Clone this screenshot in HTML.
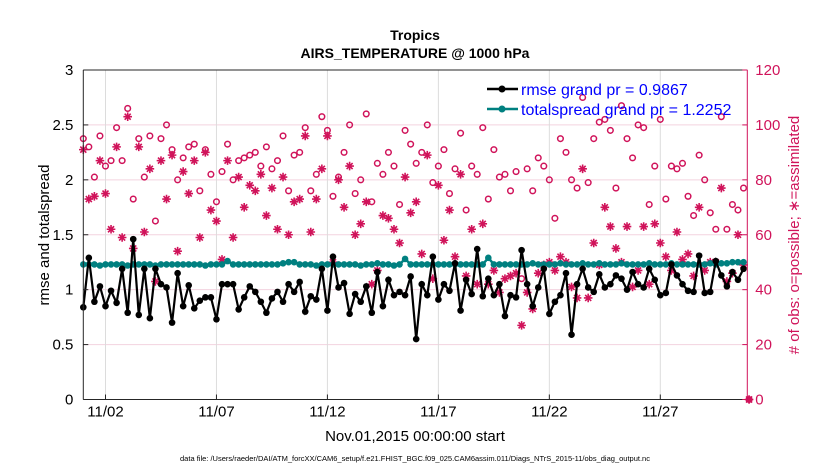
<!DOCTYPE html>
<html><head><meta charset="utf-8"><style>
body{margin:0;background:#fff;}
svg{display:block;font-family:"Liberation Sans",Arial,sans-serif;}
</style></head><body>
<svg id="chart" width="830" height="470" viewBox="0 0 830 470" xmlns="http://www.w3.org/2000/svg">
<text x="415" y="40" text-anchor="middle" font-size="14" font-weight="bold">Tropics</text>
<text x="415" y="58" text-anchor="middle" font-size="14" font-weight="bold">AIRS_TEMPERATURE @ 1000 hPa</text>
<g id="grid"></g>
<g id="marks"></g>
<g id="axes"></g>
<text x="0" y="0" transform="translate(49,235) rotate(-90)" text-anchor="middle" font-size="15">rmse and totalspread</text>
<text x="0" y="0" transform="translate(799,235) rotate(-90)" text-anchor="middle" font-size="15" fill="#d0135a"># of obs: o=possible; ∗=assimilated</text>
<text x="415" y="441" text-anchor="middle" font-size="15">Nov.01,2015 00:00:00 start</text>
<text x="415" y="461" text-anchor="middle" font-size="7.5">data file: /Users/raeder/DAI/ATM_forcXX/CAM6_setup/f.e21.FHIST_BGC.f09_025.CAM6assim.011/Diags_NTrS_2015-11/obs_diag_output.nc</text>
<g>
<line x1="487" y1="89" x2="518" y2="89" stroke="#000" stroke-width="2.5"/>
<circle cx="502" cy="89" r="3.5" fill="#000"/>
<text x="521" y="95" font-size="16" fill="#0000ff">rmse grand pr = 0.9867</text>
<line x1="487" y1="109" x2="518" y2="109" stroke="#008080" stroke-width="2.5"/>
<circle cx="502" cy="109" r="3.5" fill="#008080"/>
<text x="521" y="115" font-size="16" fill="#0000ff">totalspread grand pr = 1.2252</text>
</g>
</svg>
<script>
const rmse=[0.84,1.29,0.89,1.03,0.85,0.99,0.88,1.19,0.79,1.46,0.77,1.19,0.74,1.19,1.05,1.02,0.70,1.15,0.85,1.04,0.83,0.90,0.93,0.93,0.73,1.05,1.05,1.05,0.82,0.93,1.03,0.98,0.89,0.79,0.92,0.98,0.89,1.05,0.98,1.07,0.80,
0.94,0.91,1.19,0.81,1.30,1.02,1.06,0.78,0.96,0.89,1.03,0.79,1.16,0.85,1.09,0.95,0.98,0.95,1.12,0.55,1.05,0.95,1.30,0.91,1.05,0.99,1.24,0.81,1.09,0.96,1.37,0.94,1.10,0.95,1.05,0.76,0.95,0.93,1.36,
1.05,0.85,1.02,1.19,0.78,0.89,0.95,1.15,0.59,1.05,1.19,1.02,0.98,1.14,1.02,1.05,1.13,1.10,1.00,1.16,1.05,1.02,1.19,1.09,0.95,0.97,1.23,1.13,1.05,0.99,0.98,1.31,0.97,0.98,1.26,1.13,1.03,1.16,1.09,1.19];
const spread=[1.23,1.23,1.23,1.22,1.23,1.23,1.23,1.23,1.22,1.23,1.23,1.23,1.23,1.22,1.23,1.23,1.23,1.23,1.23,1.23,1.23,1.23,1.22,1.23,1.23,1.23,1.26,1.23,1.23,1.23,1.23,1.23,1.23,1.23,1.23,1.23,1.24,1.25,1.25,1.23,1.23,
1.23,1.22,1.23,1.23,1.23,1.23,1.23,1.23,1.23,1.22,1.23,1.23,1.24,1.23,1.23,1.22,1.23,1.28,1.23,1.23,1.23,1.23,1.23,1.23,1.23,1.23,1.23,1.23,1.23,1.23,1.23,1.23,1.29,1.23,1.23,1.23,1.23,1.23,1.23,
1.23,1.24,1.23,1.23,1.23,1.23,1.24,1.23,1.23,1.23,1.24,1.23,1.23,1.24,1.23,1.23,1.23,1.24,1.23,1.23,1.23,1.23,1.24,1.23,1.23,1.23,1.24,1.23,1.23,1.23,1.23,1.23,1.23,1.24,1.23,1.24,1.24,1.25,1.25,1.25];
const possible=[95,92,81,96,85,87,99,87,106,73,95,81,96,65,95,100,91,80,88,92,93,76,91,82,72,83,93,80,87,88,89,90,85,92,84,87,96,76,89,90,99,
76,82,103,98,74,81,90,100,75,80,104,72,86,82,90,85,71,98,93,86,90,100,79,85,91,75,84,97,69,85,82,99,73,91,81,82,76,83,44,
84,76,88,85,80,66,95,90,80,77,110,79,95,101,102,98,77,107,95,88,100,99,71,85,102,73,85,84,86,74,67,89,80,68,62,103,62,71,69,77,0];
const assimilated=[91,73,74,87,75,62,92,59,103,55,92,61,84,43,87,73,89,54,83,75,87,59,90,69,65,51,87,59,81,70,78,76,82,67,77,62,81,60,72,73,96,
61,73,84,96,50,80,70,85,60,64,72,42,47,67,66,62,57,81,68,72,53,89,44,78,58,69,52,82,45,62,42,64,42,47,39,44,45,46,27,
39,33,46,49,50,47,52,50,41,37,84,37,57,49,70,63,55,50,63,41,47,63,42,64,57,52,47,61,51,53,45,70,47,50,50,77,43,46,60,49,0];
const xTickLabels=["11/02","11/07","11/12","11/17","11/22","11/27"];
const xTickDays=[1,6,11,16,21,26];
const yTicks=[0,0.5,1,1.5,2,2.5,3];
const y2Ticks=[0,20,40,60,80,100,120];

const L=83.3,R=747.3,T=70,B=399.5;
const NS="http://www.w3.org/2000/svg";
const dayW=(R-L)/29.92;
function xDay(d){return L+d*dayW;}
function xIdx(i){return xDay(i*0.25);}
function yL(v){return B-(v/3)*(B-T);}
function yR(n){return B-(n/120)*(B-T);}
function mk(tag,attrs,parent){const e=document.createElementNS(NS,tag);for(const k in attrs)e.setAttribute(k,attrs[k]);parent.appendChild(e);return e;}
const grid=document.getElementById('grid'),marks=document.getElementById('marks'),axes=document.getElementById('axes');
const RED="#d0135a";

yTicks.forEach(v=>{if(v>0&&v<3){const g=mk('line',{x1:L,x2:R,y1:yL(v),y2:yL(v),stroke:"#f3d3df","stroke-width":1},grid);

}});
xTickDays.forEach(d=>{const g=mk('line',{x1:xDay(d),x2:xDay(d),y1:T,y2:B,stroke:"#dcdcdc","stroke-width":1},grid);

});

possible.forEach((n,i)=>{const c=mk('circle',{cx:xIdx(i),cy:yR(n),r:2.8,fill:"none",stroke:RED,"stroke-width":1.5},marks);

});
assimilated.forEach((n,i)=>{const x=xIdx(i),y=yR(n),s=4.3;
const g=mk('path',{d:`M${x-s},${y}H${x+s}M${x},${y-s}V${y+s}M${x-s*0.7},${y-s*0.7}L${x+s*0.7},${y+s*0.7}M${x-s*0.7},${y+s*0.7}L${x+s*0.7},${y-s*0.7}`,stroke:RED,"stroke-width":1.6},marks);

});
let p=mk('polyline',{points:spread.map((v,i)=>xIdx(i)+','+yL(v)).join(' '),fill:"none",stroke:"#008080","stroke-width":2.5},marks);


spread.forEach((v,i)=>{const c=mk('circle',{cx:xIdx(i),cy:yL(v),r:3.3,fill:"#008080"},marks);

});
p=mk('polyline',{points:rmse.map((v,i)=>xIdx(i)+','+yL(v)).join(' '),fill:"none",stroke:"#000","stroke-width":2.2},marks);


rmse.forEach((v,i)=>{const c=mk('circle',{cx:xIdx(i),cy:yL(v),r:3.3,fill:"#000"},marks);

});

let a=mk('line',{x1:L,x2:L,y1:T,y2:B,stroke:"#262626","stroke-width":1},axes);


a=mk('line',{x1:L,x2:R,y1:B,y2:B,stroke:"#262626","stroke-width":1},axes);


a=mk('line',{x1:L,x2:R,y1:T,y2:T,stroke:"#262626","stroke-width":1},axes);


a=mk('line',{x1:R,x2:R,y1:T,y2:B,stroke:RED,"stroke-width":1},axes);


yTicks.forEach(v=>{const y=yL(v);
const t=mk('line',{x1:L,x2:L+5,y1:y,y2:y,stroke:"#262626"},axes);


const tx=mk('text',{x:L-10,y:y+5,"text-anchor":"end","font-size":15},axes);tx.textContent=String(v);

});
y2Ticks.forEach(v=>{const y=yR(v);
const t=mk('line',{x1:R-5,x2:R,y1:y,y2:y,stroke:RED},axes);


const tx=mk('text',{x:R+8,y:y+5,"font-size":15,fill:RED},axes);tx.textContent=String(v);

});
xTickDays.forEach((d,i)=>{const x=xDay(d);
const t=mk('line',{x1:x,x2:x,y1:B-5,y2:B,stroke:"#262626"},axes);


const tx=mk('text',{x:x,y:B+17,"text-anchor":"middle","font-size":15},axes);tx.textContent=xTickLabels[i];

});
</script>
</body></html>
